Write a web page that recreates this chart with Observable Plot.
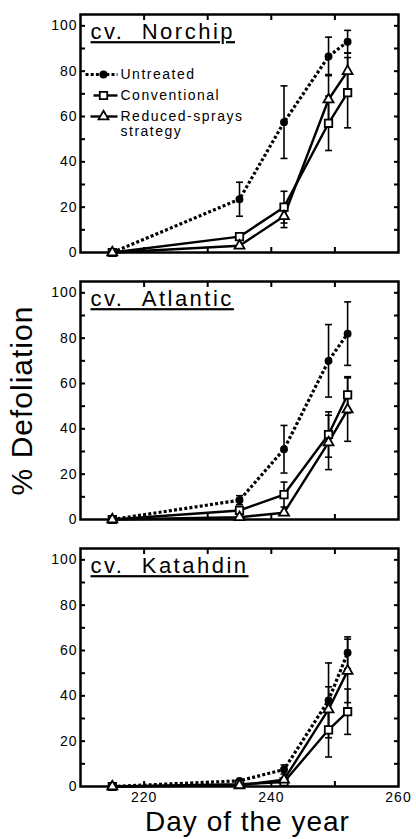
<!DOCTYPE html>
<html><head><meta charset="utf-8">
<script src="https://cdn.jsdelivr.net/npm/d3@7"></script>
<script src="https://cdn.jsdelivr.net/npm/@observablehq/plot@0.6"></script>
<style>
body{margin:0;background:#fff;}
#chart{position:relative;width:416px;height:839px;}
g[aria-label="y-axis tick label"] text, g[aria-label="x-axis tick label"] text{letter-spacing:1px;}
</style></head><body><div id="chart"></div>
<script>
// ---- data ----
const cultivars = ["Norchip", "Atlantic", "Katahdin"];
const days = [215, 235, 242, 249, 252];
const treatments = ["Untreated", "Conventional", "Reduced-sprays strategy"];

const norchipUntreated     = [0, 23.5, 57.5, 86.5, 93];
const norchipUntreatedErr  = [0, 7.5, 16, 8.5, 5];
const norchipConventional  = [0, 7, 20, 57, 70.5];
const norchipConventionalErr = [0, 0, 7, 12, 15.5];
const norchipReduced       = [0, 3, 16, 67.5, 80];
const norchipReducedErr    = [0, 0, 5, 11, 8];

const atlanticUntreated    = [0, 8.5, 31, 70, 82];
const atlanticUntreatedErr = [0, 2, 10.5, 16, 14];
const atlanticConventional = [0, 4, 11, 37.5, 55];
const atlanticConventionalErr = [0, 0, 5.5, 10, 8];
const atlanticReduced      = [0, 1, 3, 34, 48.5];
const atlanticReducedErr   = [0, 0, 0, 12, 14];

const katahdinUntreated    = [0, 2.5, 7.5, 38, 59];
const katahdinUntreatedErr = [0, 0, 2, 16.5, 7];
const katahdinConventional = [0, 1, 2, 25, 33];
const katahdinConventionalErr = [0, 0, 0, 12, 10];
const katahdinReduced      = [0, 0.5, 3, 34, 51];
const katahdinReducedErr   = [0, 0, 0, 10, 14];

const yLabelTicks = [0, 20, 40, 60, 80, 100];
const yMinorTicks = [10, 20, 30, 40, 50, 60, 70, 80, 90, 100];
const xLabelTicks = [220, 240, 260];
const xMinorTicks = [220, 230, 240, 250];
const yTitle = "% Defoliation";
const xTitle = "Day of the year";

// ---- table ----
const series = {
  Norchip: [[norchipUntreated, norchipUntreatedErr], [norchipConventional, norchipConventionalErr], [norchipReduced, norchipReducedErr]],
  Atlantic: [[atlanticUntreated, atlanticUntreatedErr], [atlanticConventional, atlanticConventionalErr], [atlanticReduced, atlanticReducedErr]],
  Katahdin: [[katahdinUntreated, katahdinUntreatedErr], [katahdinConventional, katahdinConventionalErr], [katahdinReduced, katahdinReducedErr]]
};
const rows = [];
for (const c of cultivars) {
  series[c].forEach(([vals, errs], ti) => {
    days.forEach((day, i) => rows.push({cultivar: c, treatment: treatments[ti], day, value: vals[i], err: errs[i]}));
  });
}
const byT = t => rows.filter(d => d.treatment === t);
const withErr = rows.filter(d => d.err > 0);

// ---- styles ----
const FONT = "'Liberation Sans', Arial, Helvetica, sans-serif";
const seg = (a, b) => ({draw(ctx) { ctx.moveTo(a, 0); ctx.lineTo(b, 0); }});
const cap = seg(-3.5, 3.5);
const DASH = "3,2.2";

const legendMarks = [];
const legendDy = [60, 81, 102];
const legendSpec = [
  {line: seg(-18, 14), dash: DASH, sw: 3.2, marker: {symbol: "circle", r: 3.2, fill: "black"}},
  {line: seg(-10, 14), dash: null, sw: 2.4, marker: {symbol: "square", r: 4.2, fill: "white"}},
  {line: seg(-13, 14), dash: null, sw: 2.4, marker: {symbol: "triangle", r: 3.7, fill: "white"}}
];
treatments.forEach((t, i) => {
  const s = legendSpec[i];
  const one = [t];
  legendMarks.push(Plot.dot(one, {fy: () => "Norchip", frameAnchor: "top-left", dx: 23, dy: legendDy[i], symbol: s.line, fill: "none", stroke: "black", strokeWidth: s.sw, strokeDasharray: s.dash, strokeLinecap: "butt"}));
  legendMarks.push(Plot.dot(one, {fy: () => "Norchip", frameAnchor: "top-left", dx: 23, dy: legendDy[i], symbol: s.marker.symbol, r: s.marker.r, fill: s.marker.fill, stroke: "black", strokeWidth: 1.8}));
  const lines = t === "Reduced-sprays strategy" ? ["Reduced-sprays", "strategy"] : [t];
  lines.forEach((ln, j) => {
    legendMarks.push(Plot.text([ln], {fy: () => "Norchip", text: d => d, frameAnchor: "top-left", dx: 40, dy: legendDy[i] + j * 15, textAnchor: "start", lineAnchor: "middle", fontSize: 14, fill: "black"}));
  });
});

const chart = Plot.plot({
  width: 416, height: 839,
  marginLeft: 80, marginRight: 18, marginTop: 13, marginBottom: 53,
  style: {fontFamily: FONT, background: "white", color: "black"},
  x: {domain: [210, 260]},
  y: {domain: [0, 105]},
  fy: {domain: cultivars, paddingInner: 0.11, paddingOuter: 0, axis: null, label: null},
  marks: [
    Plot.frame({stroke: "black", strokeWidth: 2.5}),
    Plot.axisY({ticks: yLabelTicks, tickSize: 0, tickPadding: 3, fontSize: 14, label: null}),
    Plot.axisY({anchor: "left", ticks: yMinorTicks, tickSize: -5, fill: "none", strokeWidth: 2, label: null}),
    Plot.axisY({anchor: "right", ticks: yMinorTicks, tickSize: -5, fill: "none", strokeWidth: 2, label: null}),
    Plot.axisX({anchor: "bottom", ticks: xMinorTicks, tickSize: -5, fill: "none", strokeWidth: 2, label: null, facetAnchor: null}),
    Plot.axisX({anchor: "top", ticks: xMinorTicks, tickSize: -5, fill: "none", strokeWidth: 2, label: null, facetAnchor: null}),
    Plot.axisX({anchor: "bottom", ticks: xLabelTicks, tickSize: 0, tickPadding: 6, fontSize: 14, label: null}),
    // error bars
    Plot.ruleX(withErr, {x: "day", y1: d => d.value - d.err, y2: d => d.value + d.err, fy: "cultivar", stroke: "black", strokeWidth: 1.6}),
    Plot.dot(withErr, {x: "day", y: d => d.value + d.err, fy: "cultivar", symbol: cap, fill: "none", stroke: "black", strokeWidth: 1.6}),
    Plot.dot(withErr, {x: "day", y: d => d.value - d.err, fy: "cultivar", symbol: cap, fill: "none", stroke: "black", strokeWidth: 1.6}),
    // lines
    Plot.line(byT("Untreated"), {x: "day", y: "value", fy: "cultivar", stroke: "black", strokeWidth: 3.2, strokeDasharray: DASH, strokeLinecap: "butt", strokeLinejoin: "miter"}),
    Plot.line(byT("Conventional"), {x: "day", y: "value", fy: "cultivar", stroke: "black", strokeWidth: 2.4}),
    Plot.line(byT("Reduced-sprays strategy"), {x: "day", y: "value", fy: "cultivar", stroke: "black", strokeWidth: 2.4}),
    // markers
    Plot.dot(byT("Untreated"), {x: "day", y: "value", fy: "cultivar", r: 3.2, fill: "black", stroke: "black"}),
    Plot.dot(byT("Conventional"), {x: "day", y: "value", fy: "cultivar", symbol: "square", r: 4.2, fill: "white", stroke: "black", strokeWidth: 1.8}),
    Plot.dot(byT("Reduced-sprays strategy"), {x: "day", y: "value", fy: "cultivar", symbol: "triangle", r: 3.7, fill: "white", stroke: "black", strokeWidth: 1.8}),
    // panel titles
    Plot.text(cultivars, {fy: d => d, text: d => "cv.\u00a0\u00a0" + d, frameAnchor: "top-left", dx: 10, dy: 9, textAnchor: "start", lineAnchor: "top", fontSize: 22, fill: "black"}),
    // axis titles
    Plot.text([yTitle], {fy: () => "Atlantic", text: d => d, frameAnchor: "left", dx: -58, rotate: -90, textAnchor: "middle", lineAnchor: "middle", fontSize: 30, fill: "black"}),
    Plot.text([xTitle], {fy: () => "Katahdin", text: d => d, frameAnchor: "bottom", dx: 8, dy: 36, textAnchor: "middle", lineAnchor: "middle", fontSize: 28, fill: "black"}),
    ...legendMarks
  ]
});
// typographic touches: underline panel titles, letter spacing
d3.select(chart).selectAll("text").each(function() {
  const t = this.textContent;
  if (t.startsWith("cv.")) {
    this.style.textDecoration = "underline";
    this.style.letterSpacing = "2.5px";
  } else if (["Untreated", "Conventional", "Reduced-sprays", "strategy"].includes(t)) {
    this.style.letterSpacing = "1.5px";
  } else if (t === yTitle || t === xTitle) {
    this.style.letterSpacing = "1px";
  }
});
document.getElementById("chart").appendChild(chart);
</script>
</body></html>
